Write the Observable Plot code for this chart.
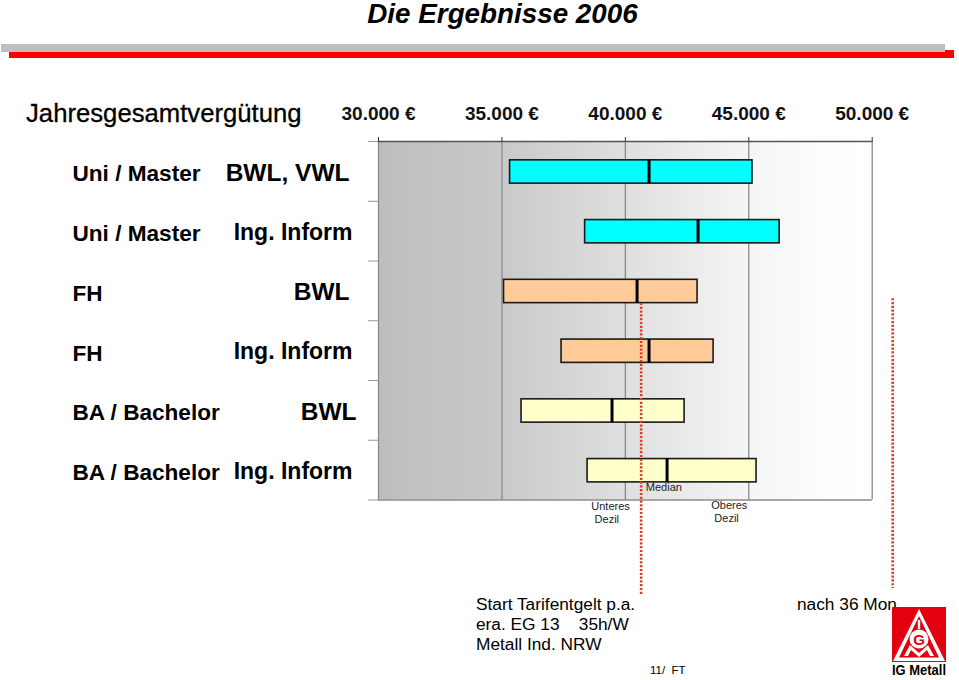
<!DOCTYPE html>
<html lang="de">
<head>
<meta charset="utf-8">
<script src="https://cdn.jsdelivr.net/npm/d3@7"></script>
<script src="https://cdn.jsdelivr.net/npm/@observablehq/plot@0.6"></script>
<style>
html,body{margin:0;padding:0;background:#fff;overflow:hidden}
#page{position:relative;width:959px;height:680px;font-family:"Liberation Sans",Arial,sans-serif;color:#000}
#page svg{position:absolute;left:0;top:0;overflow:visible;background:none}
.t{position:absolute;white-space:pre;line-height:1}
.bar{position:absolute}
</style>
</head>
<body>
<div id="page">
  <div class="bar" style="left:9px;top:50px;width:945px;height:8px;background:#f00"></div>
  <div class="bar" style="left:1px;top:44px;width:944px;height:8px;background:#bfbfbf"></div>
  <div class="t" style="left:0;width:1005px;text-align:center;top:0;font:italic bold 27.8px 'Liberation Sans';line-height:27px">Die Ergebnisse 2006</div>
  <div class="t" style="left:26px;top:101px;font-size:25.7px;-webkit-text-stroke:.3px #000">Jahresgesamtvergütung</div>
  <div id="chart"></div>
  <div class="t" style="left:476px;top:594px;font-size:17.3px;line-height:20px">Start Tarifentgelt p.a.
era. EG 13    35h/W
Metall Ind. NRW</div>
  <div class="t" style="left:797px;top:594px;font-size:17.3px;line-height:20px">nach 36 Mon.</div>
  <div class="t" style="left:650px;top:665px;font-size:11.5px">11/  FT</div>
  <svg width="959" height="680" style="pointer-events:none">
    <rect x="892" y="607" width="54" height="55" fill="#e3000f"/>
    <path d="M919 609 L945 661 L893 661 Z" fill="#fff"/>
    <path d="M919 616 L939 657.5 L899 657.5 Z" fill="#e3000f"/>
    <circle cx="919" cy="639" r="9.5" fill="#fff"/>
    <text x="919" y="644.5" text-anchor="middle" font-family="Liberation Sans" font-weight="bold" font-size="15" fill="#e3000f">G</text>
    <rect x="917.8" y="620" width="2.4" height="9" fill="#fff"/>
    <path d="M904 656 L910 645 L919 653 L928 645 L934 656 L930 656 L927 650 L919 657 L911 650 L908 656 Z" fill="#fff"/>
    <text x="919" y="675" text-anchor="middle" font-family="Liberation Sans" font-weight="bold" font-size="14.5" textLength="54" lengthAdjust="spacingAndGlyphs" fill="#000">IG Metall</text>
  </svg>
</div>
<script>
const abschluss = ["Uni / Master","Uni / Master","FH","FH","BA / Bachelor","BA / Bachelor"];
const fach = ["BWL, VWL","Ing. Inform","BWL","Ing. Inform","BWL","Ing. Inform"];
const unteres = [35330,38370,35085,37415,35795,38470];
const median  = [40960,42945,40475,40960,39460,41690];
const oberes  = [45150,46250,42925,43575,42400,45315];
const farben  = ["#00ffff","#00ffff","#ffcc99","#ffcc99","#ffffcc","#ffffcc"];
const xTicks = [30000,35000,40000,45000,50000];
const startLinie = {x:40640, y1:2.71, y2:7.58};
const endLinie   = {x:50830, y1:2.63, y2:7.48};
const notizen = [
  {x:39400,y:6.11,t:"Unteres"},{x:39250,y:6.33,t:"Dezil"},
  {x:41560,y:5.79,t:"Median"},
  {x:44210,y:6.09,t:"Oberes"},{x:44100,y:6.31,t:"Dezil"}
];

const rows = abschluss.map((a,i)=>({i,a,f:fach[i],lo:unteres[i],med:median[i],hi:oberes[i],fill:farben[i]}));
const fachRight = [349,352,349,352,356,352];
const fachSize = [24.5,23,24.5,23,24.5,23];

function gradient(){
  const svg = d3.create("svg:defs");
  const g = svg.append("linearGradient").attr("id","bg").attr("x1","0").attr("x2","1").attr("y1","0").attr("y2","0");
  [[0,"#bdbdbd"],[.25,"#c9c9c9"],[.5,"#dfdfdf"],[.75,"#f5f5f5"],[.9,"#fdfdfd"],[1,"#ffffff"]]
    .forEach(([o,c])=>g.append("stop").attr("offset",o).attr("stop-color",c));
  return svg.node();
}

const plot = Plot.plot({
  width:959, height:680,
  marginLeft:378, marginRight:87.3, marginTop:141, marginBottom:180.5,
  style:{background:"transparent",fontFamily:"Liberation Sans"},
  x:{domain:[30000,50000],range:[378,871.7]},
  y:{domain:[0,6],range:[141,499.5]},
  clip:false,
  marks:[
    gradient,
    Plot.rectX([0],{x1:30000,x2:50000,y1:0,y2:6,fill:"url(#bg)"}),
    Plot.ruleX(xTicks,{y1:0,y2:6,stroke:"#8a8a8a",strokeWidth:1.3}),
    Plot.ruleY([6],{x1:30000,x2:50000,stroke:"#8a8a8a",strokeWidth:1.5}),
    Plot.ruleY([0],{x1:30000,x2:50000,stroke:"#555",strokeWidth:1.5}),
    Plot.axisX({anchor:"top",ticks:xTicks,tickSize:5,tickPadding:17,stroke:"#333",
      tickFormat:d=>d3.format(",")(d).replace(",",".")+" €",fontSize:19,fontWeight:"bold",fill:"#111"}),
    Plot.axisY({anchor:"left",ticks:[0,1,2,3,4,5,6],tickSize:10,tickFormat:()=>"",stroke:"#999",label:null}),
    Plot.rect(rows,{x1:"lo",x2:"hi",y1:d=>d.i+.315,y2:d=>d.i+.705,fill:"fill",stroke:"#1a1a1a",strokeWidth:1.6}),
    Plot.ruleX(rows,{x:"med",y1:d=>d.i+.315,y2:d=>d.i+.705,stroke:"#000",strokeWidth:3}),
    Plot.text(rows,{x:30000,y:d=>d.i+.545,text:"a",textAnchor:"start",dx:-306,fontSize:22.6,fontWeight:"bold",fill:"#000"}),
    Plot.text(rows,{x:30000,y:d=>d.i+.525,text:"f",textAnchor:"end",fontSize:d=>fachSize[d.i],fontWeight:"bold",fill:"#000",
      render:(index,scales,values,dims,ctx,next)=>{
        const g=next(index,scales,values,dims,ctx);
        d3.select(g).selectAll("text").each(function(_,k){
          d3.select(this).attr("dx",fachRight[index[k]]-378);
        });
        return g;
      }}),
    Plot.text(notizen,{x:"x",y:"y",text:"t",fontSize:11,fill:"#222"}),
    Plot.ruleX([startLinie],{x:"x",y1:"y1",y2:"y2",stroke:"#d8402a",strokeWidth:2.6,strokeDasharray:"2.2 1.6"}),
    Plot.ruleX([endLinie],{x:"x",y1:"y1",y2:"y2",stroke:"#d8402a",strokeWidth:2.6,strokeDasharray:"2.2 1.6"})
  ]
});
document.getElementById("chart").appendChild(plot);
</script>
</body>
</html>
